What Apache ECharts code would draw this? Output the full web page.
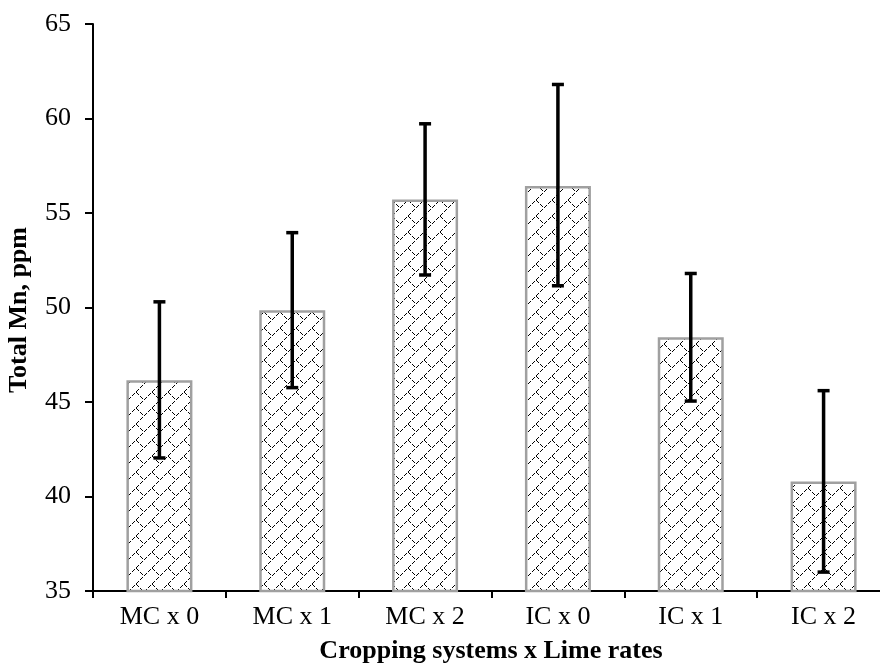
<!DOCTYPE html>
<html>
<head>
<meta charset="utf-8">
<script src="https://cdn.jsdelivr.net/npm/echarts@6/dist/echarts.min.js"></script>
<style>html,body{margin:0;padding:0;background:#fff;}#c{width:880px;height:664px;}</style>
</head>
<body>
<div id="c"></div>
<script>
var categories = ['MC x 0', 'MC x 1', 'MC x 2', 'IC x 0', 'IC x 1', 'IC x 2'];
var means = [46.15, 49.85, 55.72, 56.43, 48.42, 40.8];
var errUpper = [50.3, 53.96, 59.72, 61.8, 51.8, 45.6];
var errLower = [42.04, 45.76, 51.72, 51.15, 45.05, 36.0];
var yTicks = [35, 40, 45, 50, 55, 60, 65];

function makePattern() {
  var s = 16;
  var cv = document.createElement('canvas');
  cv.width = s; cv.height = s;
  var ctx = cv.getContext('2d');
  ctx.fillStyle = '#fff';
  ctx.fillRect(0, 0, s, s);
  ctx.fillStyle = '#000';
  // diagonal brick: up-right diagonal + half down-right segment
  for (var i = 0; i < s; i++) {
    if (i % 4 !== 3) ctx.fillRect(i, s - 1 - i, 1, 1);
  }
  for (var j = s / 2; j < s; j++) {
    if (j % 4 !== 3) ctx.fillRect(j, j, 1, 1);
  }
  return cv;
}

var chart = echarts.init(document.getElementById('c'), null, {renderer: 'canvas'});
var pattern = makePattern();
var errData = categories.map(function (c, i) { return [i, errLower[i], errUpper[i]]; });

chart.setOption({
  animation: false,
  backgroundColor: '#fff',
  grid: {left: 93, top: 24, width: 797, bottom: 73, containLabel: false, outerBoundsMode: 'none'},
  xAxis: {
    type: 'category',
    data: categories,
    axisLine: {lineStyle: {color: '#000', width: 2}},
    axisTick: {show: true, length: 7, alignWithLabel: false, lineStyle: {color: '#000', width: 2}},
    axisLabel: {color: '#000', fontFamily: 'Liberation Serif', fontSize: 26, margin: 13, interval: 0}
  },
  yAxis: {
    type: 'value',
    min: yTicks[0],
    max: yTicks[yTicks.length - 1],
    interval: 5,
    splitLine: {show: false},
    axisLine: {show: true, lineStyle: {color: '#000', width: 2}},
    axisTick: {show: true, length: 8, lineStyle: {color: '#000', width: 2}},
    axisLabel: {color: '#000', fontFamily: 'Liberation Serif', fontSize: 26, margin: 22}
  },
  graphic: [
    {type: 'text', x: 491, y: 651, style: {text: 'Cropping systems x Lime rates', font: 'bold 26px "Liberation Serif"', fill: '#000', align: 'center', verticalAlign: 'middle'}},
    {type: 'text', x: 19, y: 310, rotation: Math.PI / 2, style: {text: 'Total Mn, ppm', font: 'bold 26px "Liberation Serif"', fill: '#000', align: 'center', verticalAlign: 'middle'}}
  ],
  series: [
    {
      type: 'bar',
      data: means,
      barWidth: 66,
      itemStyle: {color: {image: pattern, repeat: 'repeat'}, borderColor: '#a0a0a0', borderWidth: 2.5},
      z: 2
    },
    {
      type: 'custom',
      data: errData,
      z: 5,
      renderItem: function (params, api) {
        var x = api.value(0);
        var lo = api.coord([x, api.value(1)]);
        var hi = api.coord([x, api.value(2)]);
        var half = 6;
        var st = {stroke: '#000', lineWidth: 3.5};
        return {
          type: 'group',
          children: [
            {type: 'line', shape: {x1: hi[0], y1: hi[1], x2: lo[0], y2: lo[1]}, style: st},
            {type: 'line', shape: {x1: hi[0] - half, y1: hi[1], x2: hi[0] + half, y2: hi[1]}, style: st},
            {type: 'line', shape: {x1: lo[0] - half, y1: lo[1], x2: lo[0] + half, y2: lo[1]}, style: st}
          ]
        };
      }
    }
  ]
});
</script>
</body>
</html>
